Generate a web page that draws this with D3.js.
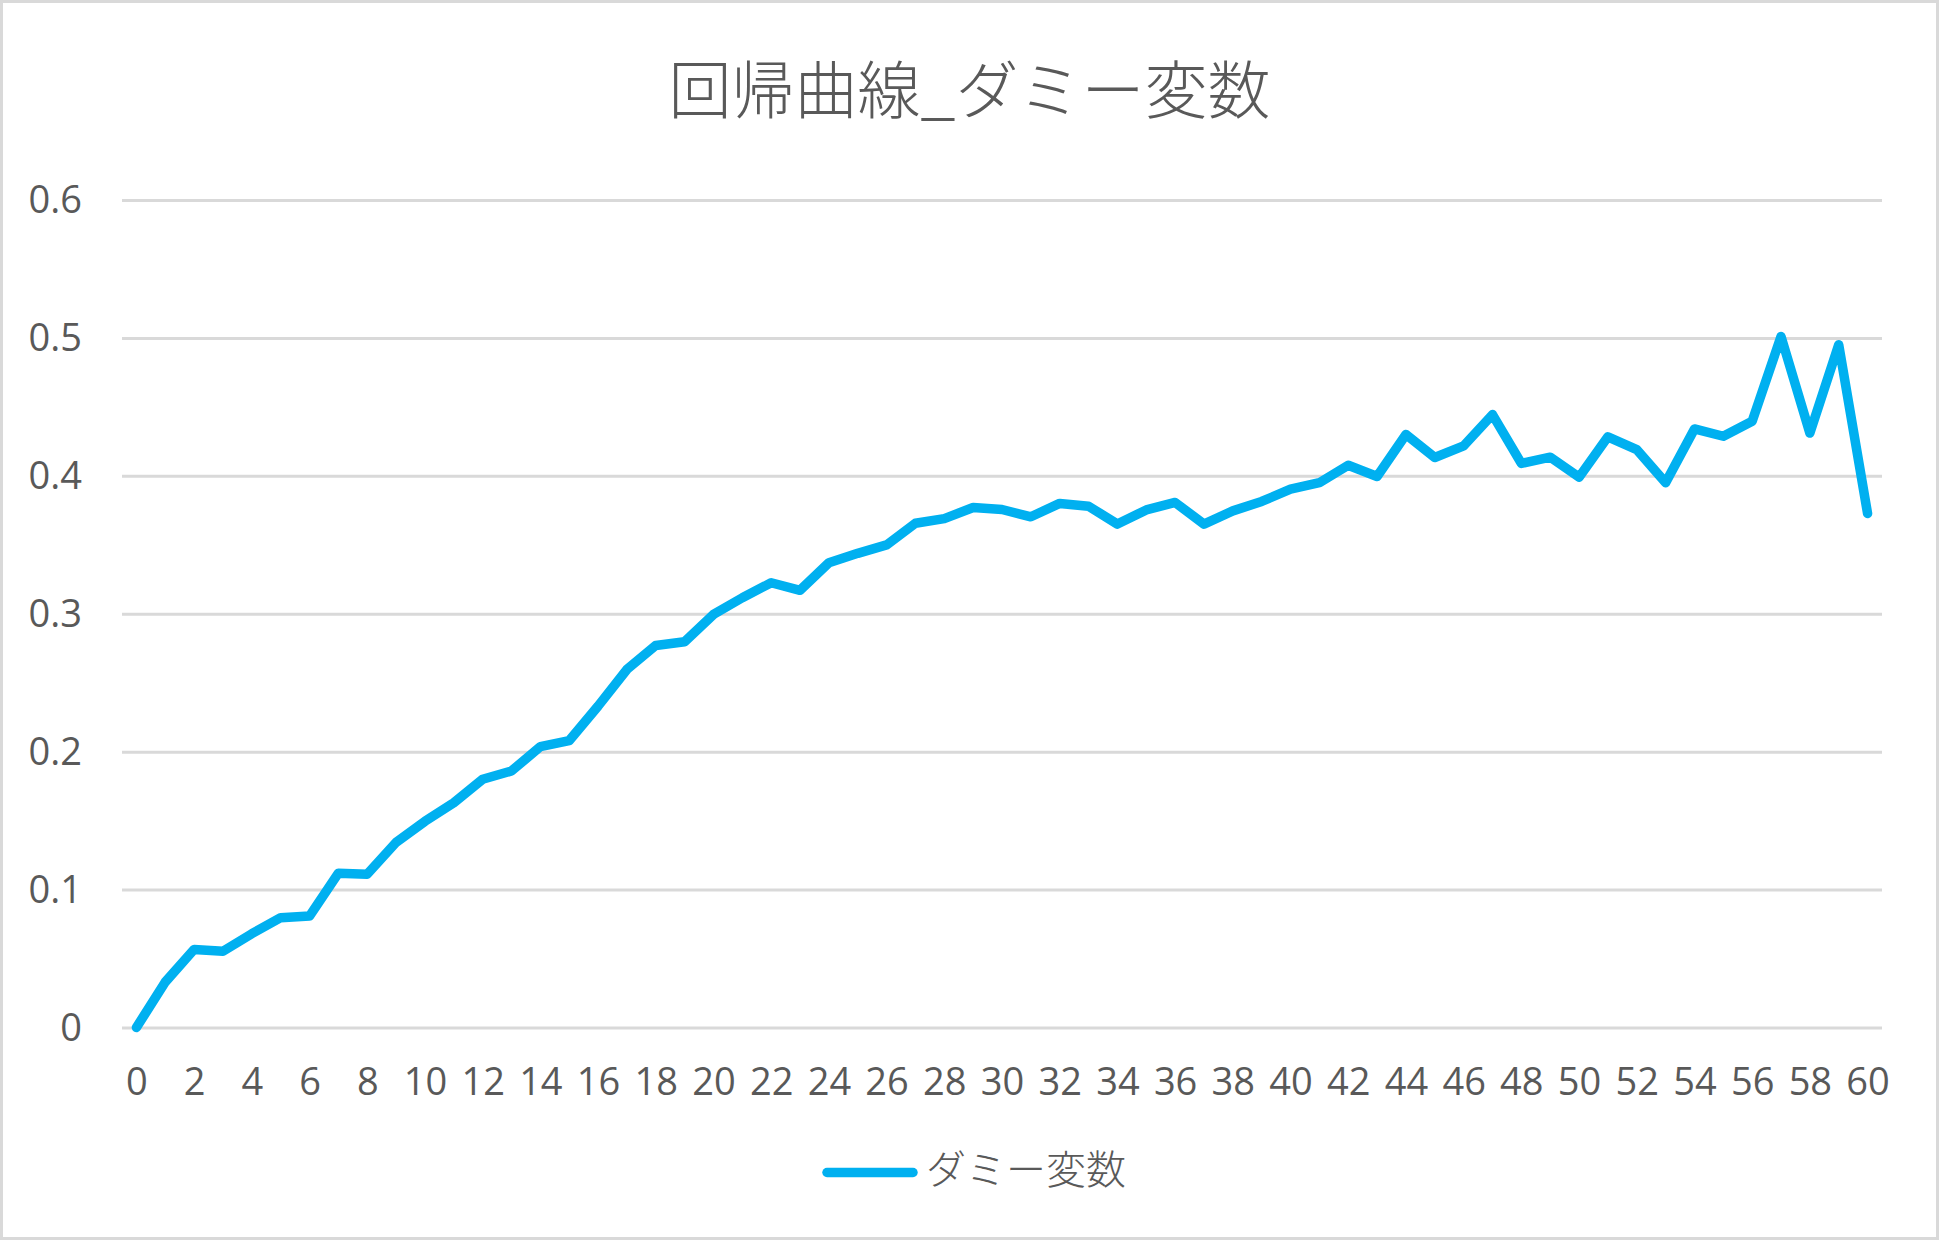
<!DOCTYPE html>
<html>
<head>
<meta charset="utf-8">
<script src="https://cdn.jsdelivr.net/npm/d3@7"></script>
<style>
html,body{margin:0;padding:0;background:#fff;}
svg{display:block;}
</style>
</head>
<body>
<script>
const title = "回帰曲線_ダミー変数";
const seriesName = "ダミー変数";
const categories = d3.range(0, 61);
const values = [
  0, 0.033, 0.0566, 0.0553, 0.068, 0.0796, 0.0808, 0.1119, 0.1112, 0.1342,
  0.1495, 0.163, 0.180, 0.186, 0.2036, 0.208, 0.233, 0.2596, 0.277, 0.2797,
  0.2995, 0.3116, 0.3225, 0.317, 0.337, 0.3438, 0.3499, 0.3656, 0.369, 0.377,
  0.3756, 0.3703, 0.380, 0.378, 0.365, 0.3753, 0.3807, 0.365, 0.3746, 0.3814,
  0.3903, 0.395, 0.4077, 0.3995, 0.430, 0.4133, 0.4217, 0.4444, 0.409, 0.4135,
  0.399, 0.4283, 0.419, 0.395, 0.434, 0.4287, 0.4396, 0.501, 0.431, 0.495,
  0.3727
];
const yTicks = [0, 0.1, 0.2, 0.3, 0.4, 0.5, 0.6];
const xTickLabels = categories.filter(c => c % 2 === 0);

const W = 1939, H = 1240;
const svg = d3.select("body").append("svg").attr("width", W).attr("height", H);

svg.append("rect").attr("x", 1.5).attr("y", 1.5).attr("width", W - 3).attr("height", H - 3)
  .attr("fill", "#fff").attr("stroke", "#D9D9D9").attr("stroke-width", 3);

const x = d3.scalePoint().domain(categories).range([122, 1882]).padding(0.5);
const y = d3.scaleLinear().domain([0, 0.6]).range([1027.5, 200]);

const textColor = "#595959";
const latin = "'Open Sans','Noto Sans',sans-serif";
const cjk = "'Noto Sans CJK JP','Noto Sans',sans-serif";

// gridlines + y labels via axis
const yAxis = d3.axisLeft(y).tickValues(yTicks).tickSize(-(1882 - 122)).tickPadding(40)
  .tickFormat(d => d3.format("")(+d.toFixed(1)));
const gy = svg.append("g").attr("transform", "translate(122,0)").call(yAxis);
gy.select(".domain").remove();
gy.selectAll(".tick line").attr("stroke", "#D9D9D9").attr("stroke-width", 3);
gy.selectAll(".tick text").attr("fill", textColor).attr("font-family", latin)
  .attr("font-size", 38).attr("x", -40).attr("dy", "0.34em");

// x labels via axis
const xAxis = d3.axisBottom(x).tickValues(xTickLabels).tickSize(0).tickPadding(0);
const gx = svg.append("g").attr("transform", "translate(0,1027.5)").call(xAxis);
gx.select(".domain").remove();
gx.selectAll(".tick text").attr("fill", textColor).attr("font-family", latin)
  .attr("font-size", 38).attr("y", 67).attr("dy", 0);

// line
const line = d3.line().x((d, i) => x(categories[i])).y(d => y(d));
svg.append("path").datum(values).attr("d", line).attr("fill", "none")
  .attr("stroke", "#00B0F0").attr("stroke-width", 9.5)
  .attr("stroke-linejoin", "round").attr("stroke-linecap", "round");

// title
svg.append("text").attr("x", W / 2).attr("y", 113).attr("text-anchor", "middle")
  .attr("font-family", cjk).attr("font-weight", 300).attr("font-size", 63)
  .attr("fill", textColor).text(title);

// legend
const lg = svg.append("g");
lg.append("line").attr("x1", 827).attr("x2", 913).attr("y1", 1172.5).attr("y2", 1172.5)
  .attr("stroke", "#00B0F0").attr("stroke-width", 9.5).attr("stroke-linecap", "round");
lg.append("text").attr("x", 926).attr("y", 1184).attr("font-family", cjk).attr("font-weight", 300)
  .attr("font-size", 40).attr("fill", textColor).text(seriesName);
</script>
</body>
</html>
